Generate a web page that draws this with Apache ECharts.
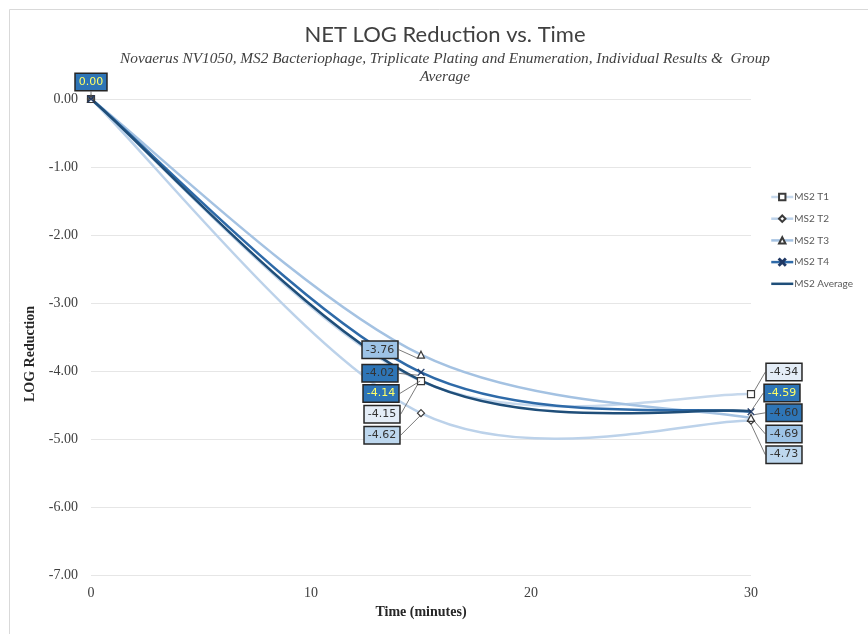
<!DOCTYPE html>
<html><head><meta charset="utf-8">
<script src="https://cdn.jsdelivr.net/npm/echarts@6/dist/echarts.min.js"></script>
<style>html,body{margin:0;padding:0;background:#fff}#c{width:868px;height:634px}</style>
</head><body><div id="c"></div>
<script>
var times = [0, 15, 30];
var seriesNames = ['MS2 T1', 'MS2 T2', 'MS2 T3', 'MS2 T4', 'MS2 Average'];
var t1 = [0, -4.15, -4.34];
var t2 = [0, -4.62, -4.73];
var t3 = [0, -3.76, -4.69];
var t4 = [0, -4.02, -4.60];
var avg = [0, -4.14, -4.59];
var yTicks = [0, -1, -2, -3, -4, -5, -6, -7];
var xTicks = [0, 10, 20, 30];

var allValues = [t1, t2, t3, t4, avg];
var lineColors = ['#c6d8ec', '#bcd2ea', '#a4c2e2', '#2e6aa8', '#1f4e79'];
var labelBg = ['#e4edf7', '#bdd7ee', '#9dc3e6', '#2e75b6', '#2e75b6'];
var labelFg = ['#333333', '#333333', '#333333', '#333333', '#ffff66'];
var symbols = ['rect', 'diamond', 'triangle',
  'path://M0,1L1,0L5,4L9,0L10,1L6,5L10,9L9,10L5,6L1,10L0,9L4,5Z', 'circle'];
// label offsets (px) relative to each point: [dx, dy] per series / data index
var labelOffsets = [
  [null, [-39, 33], [33, -22]],
  [null, [-39, 22], [33, 34]],
  [null, [-41, -5], [33, 16]],
  [null, [-41, 1], [33, 1]],
  [[0, -17], [-40, 13], [31, -18]]
];

// Excel-style smoothed curve (cubic Bezier, 1/6 chord tangents) through points given in pixel space
function smoothPath(pts) {
  var d = 'M' + pts[0][0] + ',' + pts[0][1];
  for (var i = 0; i < pts.length - 1; i++) {
    var p0 = pts[Math.max(i - 1, 0)], p1 = pts[i], p2 = pts[i + 1], p3 = pts[Math.min(i + 2, pts.length - 1)];
    var c1x = p1[0] + (p2[0] - p0[0]) / 6, c1y = p1[1] + (p2[1] - p0[1]) / 6;
    var c2x = p2[0] - (p3[0] - p1[0]) / 6, c2y = p2[1] - (p3[1] - p1[1]) / 6;
    d += 'C' + c1x + ',' + c1y + ',' + c2x + ',' + c2y + ',' + p2[0] + ',' + p2[1];
  }
  return d;
}

var chart = echarts.init(document.getElementById('c'), null, {renderer: 'canvas'});
var series = [];
seriesNames.forEach(function (name, si) {
  series.push({
    name: name + ' curve',
    type: 'custom',
    z: 2 + si,
    clip: false,
    silent: true,
    encode: {x: 0, y: 1},
    data: times.map(function (t, i) { return [t, allValues[si][i]]; }),
    renderItem: function (params, api) {
      if (params.dataIndex !== 0) return null;
      var pts = times.map(function (t, i) { return api.coord([t, allValues[si][i]]); });
      return {
        type: 'path',
        shape: {pathData: smoothPath(pts)},
        style: {fill: 'none', stroke: lineColors[si], lineWidth: 2.5}
      };
    }
  });
});
seriesNames.forEach(function (name, si) {
  series.push({
    name: name,
    type: 'line',
    z: 10 + si,
    symbol: symbols[si],
    symbolSize: si === 4 ? 2 : 7,
    lineStyle: {color: lineColors[si], width: 2.5, opacity: 0},
    itemStyle: {
      color: si === 3 ? '#1f3864' : (si === 4 ? 'rgba(0,0,0,0)' : '#ffffff'),
      borderColor: si === 3 ? '#1f3864' : (si === 4 ? 'rgba(0,0,0,0)' : '#3a3a3a'),
      borderWidth: si === 3 ? 0.5 : (si === 4 ? 0 : 1.2)
    },
    emphasis: {disabled: true},
    label: {
      show: true,
      formatter: function (p) { return p.value[1].toFixed(2); },
      fontFamily: 'DejaVu Sans',
      fontSize: 11,
      color: labelFg[si],
      backgroundColor: labelBg[si],
      borderColor: '#262626',
      borderWidth: 1.5,
      padding: [3, 3, 2, 3]
    },
    labelLine: {show: true, lineStyle: {color: '#595959', width: 0.8}},
    labelLayout: function (p) {
      var o = labelOffsets[p.seriesIndex - 5] && labelOffsets[p.seriesIndex - 5][p.dataIndex];
      if (!o) return {};
      return {
        x: p.rect.x + p.rect.width / 2 + o[0],
        y: p.rect.y + p.rect.height / 2 + o[1],
        align: 'center', verticalAlign: 'middle'
      };
    },
    data: times.map(function (t, i) {
      var item = {value: [t, allValues[si][i]]};
      if (!labelOffsets[si][i]) item.label = {show: false};
      return item;
    })
  });
});

chart.setOption({
  animation: false,
  backgroundColor: '#ffffff',
  graphic: [{
    type: 'rect', left: 7, top: 7, shape: {width: 880, height: 660},
    style: {fill: 'none', stroke: '#d9d9d9', lineWidth: 1}, silent: true, z: -1
  }, {
    type: 'text', x: 30, y: 354, rotation: Math.PI / 2,
    style: {text: 'LOG Reduction', font: 'bold 14px "Liberation Serif"', fill: '#262626',
      align: 'center', verticalAlign: 'middle'}
  }],
  title: {
    text: 'NET LOG Reduction vs. Time',
    subtext: 'Novaerus NV1050, MS2 Bacteriophage, Triplicate Plating and Enumeration, Individual Results &  Group\nAverage',
    left: 440, textAlign: 'center', top: 19,
    itemGap: 4,
    textStyle: {fontFamily: 'Lato', fontSize: 22, fontWeight: 'normal', color: '#404040'},
    subtextStyle: {fontFamily: 'Liberation Serif', fontStyle: 'italic', fontSize: 15.3, color: '#404040', lineHeight: 18}
  },
  legend: {
    orient: 'vertical', left: 765, top: 187,
    itemWidth: 22, itemHeight: 8, itemGap: 11.7,
    textStyle: {fontFamily: 'Lato', fontSize: 10, color: '#595959', padding: [0, 0, 0, -4]},
    data: seriesNames.map(function (n, si) {
      return {name: n, lineStyle: {color: lineColors[si], width: 2.5, opacity: 1}};
    })
  },
  grid: {left: 91, right: 117, top: 99, bottom: 59, containLabel: false},
  xAxis: {
    type: 'value', min: 0, max: 30, interval: 10,
    name: 'Time (minutes)', nameLocation: 'middle', nameGap: 30,
    nameTextStyle: {fontFamily: 'Liberation Serif', fontWeight: 'bold', fontSize: 14, color: '#262626'},
    axisLine: {show: false}, axisTick: {show: false}, splitLine: {show: false},
    axisLabel: {
      margin: 11, fontFamily: 'Liberation Serif', fontSize: 14, color: '#404040',
      formatter: function (v) { return xTicks.indexOf(v) >= 0 ? String(v) : ''; }
    }
  },
  yAxis: {
    type: 'value', min: -7, max: 0, interval: 1,
    axisLine: {show: false}, axisTick: {show: false},
    splitLine: {show: true, lineStyle: {color: '#e6e6e6', width: 1.2}},
    axisLabel: {
      margin: 13, fontFamily: 'Liberation Serif', fontSize: 14, color: '#404040',
      formatter: function (v) { return yTicks.indexOf(v) >= 0 ? v.toFixed(2) : ''; }
    }
  },
  series: series
});
</script></body></html>
